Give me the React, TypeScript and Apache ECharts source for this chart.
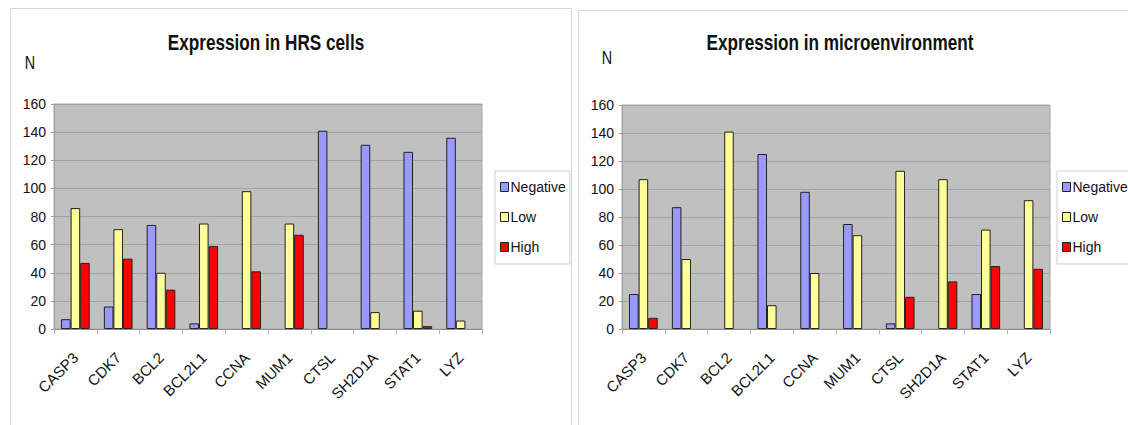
import React, { useEffect, useRef } from "react";
import * as echarts from "echarts";

const categories = ["CASP3", "CDK7", "BCL2", "BCL2L1", "CCNA", "MUM1", "CTSL", "SH2D1A", "STAT1", "LYZ"];
const seriesNames = ["Negative", "Low", "High"];
const hrsNegative = [7, 16, 74, 4, 0, 0, 141, 131, 126, 136];
const hrsLow = [86, 71, 40, 75, 98, 75, 0, 12, 13, 6];
const hrsHigh = [47, 50, 28, 59, 41, 67, 0, 0, 2, 0];
const microNegative = [25, 87, 0, 125, 98, 75, 4, 0, 25, 0];
const microLow = [107, 50, 141, 17, 40, 67, 113, 107, 71, 92];
const microHigh = [8, 0, 0, 0, 0, 0, 23, 34, 45, 43];
const yMin = 0;
const yMax = 160;
const yStep = 20;
const titles = ["Expression in HRS cells", "Expression in microenvironment"];
const yAxisName = "N";

const colors = ["#9999ff", "#ffff99", "#ff0000"];
const FONT = '"Liberation Sans", Arial, sans-serif';

export default function App() {
  const ref = useRef<HTMLDivElement>(null);
  useEffect(() => {
    if (!ref.current) return;
    const chart = echarts.init(ref.current, null, { renderer: "svg" });
    const grids = [
      { left: 54, top: 104, width: 428, height: 225 },
      { left: 622, top: 105, width: 428, height: 224 },
    ];
    const sets = [
      [hrsNegative, hrsLow, hrsHigh],
      [microNegative, microLow, microHigh],
    ];
    const series: any[] = [];
    sets.forEach((set, gi) => {
      set.forEach((vals, si) => {
        series.push({
          type: "bar",
          name: seriesNames[si],
          xAxisIndex: gi,
          yAxisIndex: gi,
          data: vals.map((v) => (v === 0 ? "-" : v)),
          barGap: "0%",
          barCategoryGap: "33%",
          itemStyle: { color: colors[si], borderColor: "#222", borderWidth: 1 },
        });
      });
    });
    const option: any = {
      animation: false,
      textStyle: { fontFamily: FONT },
      grid: grids.map((g) => ({
        ...g,
        show: true,
        backgroundColor: "#c0c0c0",
        borderColor: "#a8a8a8",
        borderWidth: 1,
        containLabel: false,
      })),
      xAxis: grids.map((_, i) => ({
        type: "category",
        gridIndex: i,
        data: categories,
        axisLine: { show: true, lineStyle: { color: "#8c8c8c", width: 1 } },
        axisTick: { show: true, length: 5, lineStyle: { color: "#b0b0b0" } },
        axisLabel: {
          rotate: 45,
          interval: 0,
          margin: 26,
          fontSize: 15,
          color: "#111",
          fontFamily: FONT,
        },
      })),
      yAxis: grids.map((_, i) => ({
        type: "value",
        gridIndex: i,
        min: yMin,
        max: yMax,
        interval: yStep,
        axisLine: { show: true, lineStyle: { color: "#a0a0a0" } },
        axisTick: { show: true, length: 3, lineStyle: { color: "#a0a0a0" } },
        splitLine: { show: true, lineStyle: { color: "#a4a4a4", width: 1 } },
        axisLabel: { fontSize: 14, color: "#111", margin: 8, fontFamily: FONT },
      })),
      legend: [
        { left: 495, top: 171 },
        { left: 1057, top: 171 },
      ].map((p) => ({
        ...p,
        orient: "vertical",
        data: seriesNames,
        icon: "rect",
        itemWidth: 8,
        itemHeight: 9,
        itemGap: 16,
        padding: [9, 4, 10, 5],
        borderColor: "#cfcfcf",
        borderWidth: 1,
        backgroundColor: "#fff",
        itemStyle: { borderColor: "#222", borderWidth: 1 },
        textStyle: { fontSize: 14, color: "#111", lineHeight: 14, fontFamily: FONT, padding: [0, 0, 0, -3] },
      })),
      graphic: [
        {
          type: "rect",
          z: -10,
          shape: { x: 10.5, y: 8.5, width: 561, height: 430 },
          style: { fill: "#fff", stroke: "#d6d6d6", lineWidth: 1 },
        },
        {
          type: "rect",
          z: -10,
          shape: { x: 578.5, y: 10.5, width: 560, height: 430 },
          style: { fill: "#fff", stroke: "#d6d6d6", lineWidth: 1 },
        },
        {
          type: "text",
          x: 266,
          y: 42,
          scaleX: 0.78,
          style: {
            text: titles[0],
            font: `bold 22px ${FONT}`,
            fill: "#111",
            textAlign: "center",
            textVerticalAlign: "middle",
          },
        },
        {
          type: "text",
          x: 840,
          y: 42,
          scaleX: 0.78,
          style: {
            text: titles[1],
            font: `bold 22px ${FONT}`,
            fill: "#111",
            textAlign: "center",
            textVerticalAlign: "middle",
          },
        },
        {
          type: "text",
          x: 30,
          y: 62,
          scaleX: 0.8,
          style: {
            text: yAxisName,
            font: `18px ${FONT}`,
            fill: "#111",
            textAlign: "center",
            textVerticalAlign: "middle",
          },
        },
        {
          type: "text",
          x: 607,
          y: 57,
          scaleX: 0.8,
          style: {
            text: yAxisName,
            font: `18px ${FONT}`,
            fill: "#111",
            textAlign: "center",
            textVerticalAlign: "middle",
          },
        },
      ],
      series,
    };
    chart.setOption(option);
    return () => chart.dispose();
  }, []);
  return (
    <div
      ref={ref}
      style={{ position: "absolute", left: 0, top: 0, width: 1128, height: 425, background: "#fff" }}
    />
  );
}
